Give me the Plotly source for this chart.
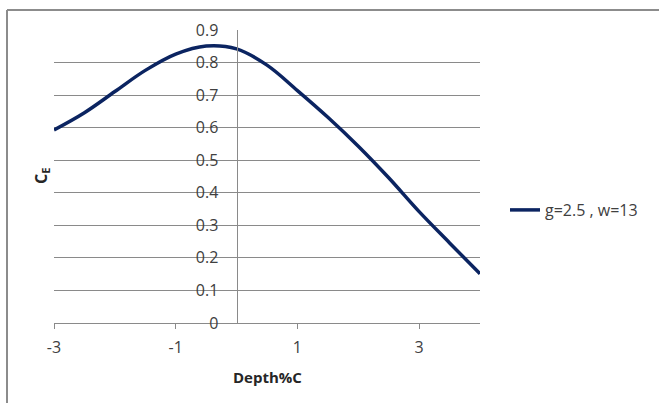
import plotly.graph_objects as go

# Data
depth = [-3, -2.5, -2, -1.5, -1, -0.5, 0, 0.5, 1, 1.5, 2, 2.5, 3, 3.5, 4]
ce = [0.593, 0.646, 0.711, 0.776, 0.826, 0.851, 0.842, 0.792, 0.714, 0.632, 0.543, 0.446, 0.342, 0.246, 0.151]
series_name = "g=2.5 , w=13"
x_ticks = [-3, -1, 1, 3]
x_ticktext = ["-3", "-1", "1", "3"]
y_ticks = [0, 0.1, 0.2, 0.3, 0.4, 0.5, 0.6, 0.7, 0.8, 0.9]
y_ticktext = ["0", "0.1", "0.2", "0.3", "0.4", "0.5", "0.6", "0.7", "0.8", "0.9"]

W, H = 659, 403
L, R, T, B = 54, 179, 30, 80
pw, ph = W - L - R, H - T - B

FONT = "Open Sans"
GRID = "#8a8a8a"
TXT = "#404040"

fig = go.Figure()
fig.add_trace(go.Scatter(
    x=depth, y=ce, mode="lines", name=series_name,
    line=dict(color="#0b2461", width=3.5, shape="spline", smoothing=1.0),
))

fig.update_layout(
    width=W, height=H,
    margin=dict(l=L, r=R, t=T, b=B),
    paper_bgcolor="white", plot_bgcolor="white",
    font=dict(family=FONT, size=16, color=TXT),
    showlegend=True,
    legend=dict(
        x=(505 - L) / pw, y=(323 - 210) / ph, xanchor="left", yanchor="middle",
        font=dict(family=FONT, size=16, color=TXT),
        bgcolor="rgba(0,0,0,0)", itemwidth=30,
    ),
    xaxis=dict(
        range=[-3, 4], tickvals=x_ticks, ticktext=x_ticktext,
        showgrid=False, zeroline=False,
        showline=True, linecolor=GRID, linewidth=1,
        ticks="outside", ticklen=5, tickcolor=GRID,
        ticklabelstandoff=5,
        tickfont=dict(family=FONT, size=16, color=TXT),
    ),
    yaxis=dict(
        range=[0, 0.9], tickvals=y_ticks, ticktext=y_ticktext,
        anchor="free", position=3 / 7,
        showgrid=True, gridcolor=GRID, gridwidth=1,
        zeroline=False,
        showline=True, linecolor=GRID, linewidth=1,
        ticks="", ticklabelstandoff=15,
        tickfont=dict(family=FONT, size=16, color=TXT),
    ),
    annotations=[
        dict(text="<b>C<sub>E</sub></b>", textangle=-90,
             x=(41 - L) / pw, y=(323 - 176) / ph, xref="paper", yref="paper",
             xanchor="center", yanchor="middle",
             showarrow=False, font=dict(family=FONT, size=16, color="#262626")),
        dict(text="<b>Depth%C</b>",
             x=(267.5 - L) / pw, y=(323 - 377) / ph, xref="paper", yref="paper",
             xanchor="center", yanchor="middle",
             showarrow=False, font=dict(family=FONT, size=15, color="#262626")),
    ],
    shapes=[
        dict(type="line", xref="paper", yref="paper",
             x0=(7 - L) / pw, x1=(W + 5 - L) / pw,
             y0=(323 - 10) / ph, y1=(323 - 10) / ph,
             line=dict(color="#8c8c8c", width=2)),
        dict(type="line", xref="paper", yref="paper",
             x0=(7 - L) / pw, x1=(7 - L) / pw,
             y0=(323 - 10) / ph, y1=(323 - H - 5) / ph,
             line=dict(color="#8c8c8c", width=2)),
    ],
)

fig.write_html("out.html", config={"displayModeBar": False},
               post_script="document.body.style.margin='0';")
